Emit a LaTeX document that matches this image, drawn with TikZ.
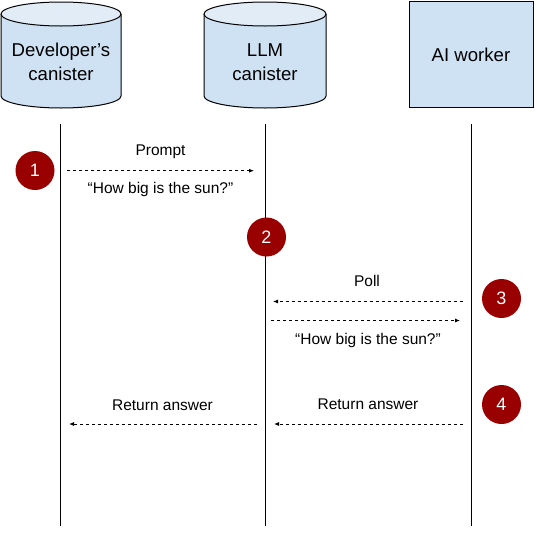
\documentclass[tikz,border=0pt]{standalone}
\usepackage{fontspec}
\setmainfont{Liberation Sans}
\usetikzlibrary{arrows.meta}
\definecolor{bodyblue}{HTML}{CFE2F3}
\definecolor{capblue}{HTML}{E2ECF7}
\definecolor{stepred}{HTML}{990000}
\tikzset{
  x=1pt, y=1pt,
  outline/.style={draw=black, line width=1pt},
  lifeline/.style={draw=black, line width=1pt},
  msg/.style={draw=black, line width=0.8pt, dash pattern=on 3pt off 3pt, -{Latex[length=5pt,width=4pt]}},
  lbl/.style={font=\fontsize{15.5}{18}\selectfont, anchor=base, inner sep=0pt},
  head/.style={font=\fontsize{18.6}{23}\selectfont, align=center, inner sep=0pt},
  badge/.style={circle, fill=stepred, minimum size=39pt, inner sep=0pt, text=white, font=\fontsize{18}{20}\selectfont},
}
\begin{document}
\begin{tikzpicture}
\useasboundingbox[fill=white] (0,0) rectangle (536,-541);
% Developer's canister
\fill[bodyblue] (1,-14) -- (1,-96) arc (180:360:60 and 12) -- (121,-14) -- cycle;
\draw[outline] (1,-14) -- (1,-96) arc (180:360:60 and 12) -- (121,-14);
\filldraw[outline, fill=capblue] (61,-14) ellipse (60 and 12);
\node[head, anchor=base] (dev) at (61,-56.5) {Developer’s};
\node[head, anchor=base] (devb) at (61,-80) {canister};
% LLM canister
\fill[bodyblue] (204,-14) -- (204,-96) arc (180:360:61 and 12) -- (326,-14) -- cycle;
\draw[outline] (204,-14) -- (204,-96) arc (180:360:61 and 12) -- (326,-14);
\filldraw[outline, fill=capblue] (265,-14) ellipse (61 and 12);
\node[head, anchor=base] (llm) at (265,-56.5) {LLM};
\node[head, anchor=base] (llmb) at (265,-80) {canister};
% AI worker
\filldraw[outline, fill=bodyblue] (409,-1) rectangle (533,-107);
\node[head, anchor=base] (ai) at (471,-61) {AI worker};
% lifelines
\coordinate (dtop) at (60.5,-124);
\coordinate (dbot) at (60.5,-526);
\coordinate (ltop) at (265.5,-124);
\coordinate (lbot) at (265.5,-526);
\coordinate (atop) at (471.5,-124);
\coordinate (abot) at (471.5,-526);
\draw[lifeline] (dtop) -- (dbot);
\draw[lifeline] (ltop) -- (lbot);
\draw[lifeline] (atop) -- (abot);
% messages
\coordinate (p1s) at (67,-170.7);
\coordinate (p1e) at (254,-170.7);
\draw[msg] (p1s) -- (p1e);
\node[lbl] (prompt) at (160.5,-155.7) {Prompt};
\node[lbl] (q1) at (160.5,-193) {“How big is the sun?”};
\coordinate (p2s) at (463,-301.5);
\coordinate (p2e) at (273,-301.5);
\draw[msg] (p2s) -- (p2e);
\node[lbl] (poll) at (367,-286) {Poll};
\coordinate (p3s) at (271,-320.5);
\coordinate (p3e) at (460,-320.5);
\draw[msg] (p3s) -- (p3e);
\node[lbl] (q2) at (368,-344) {“How big is the sun?”};
\coordinate (p4s) at (463,-424);
\coordinate (p4e) at (274,-424);
\draw[msg] (p4s) -- (p4e);
\node[lbl] (ra2) at (368,-409.5) {Return answer};
\coordinate (p5s) at (257,-424);
\coordinate (p5e) at (69,-424);
\draw[msg] (p5s) -- (p5e);
\node[lbl] (ra1) at (162.5,-410.5) {Return answer};
% badges
\node[badge] (b1) at (35,-170.5) {1};
\node[badge] (b2) at (266.5,-237) {2};
\node[badge] (b3) at (501.5,-298.5) {3};
\node[badge] (b4) at (501.5,-404.5) {4};
\end{tikzpicture}
\end{document}
